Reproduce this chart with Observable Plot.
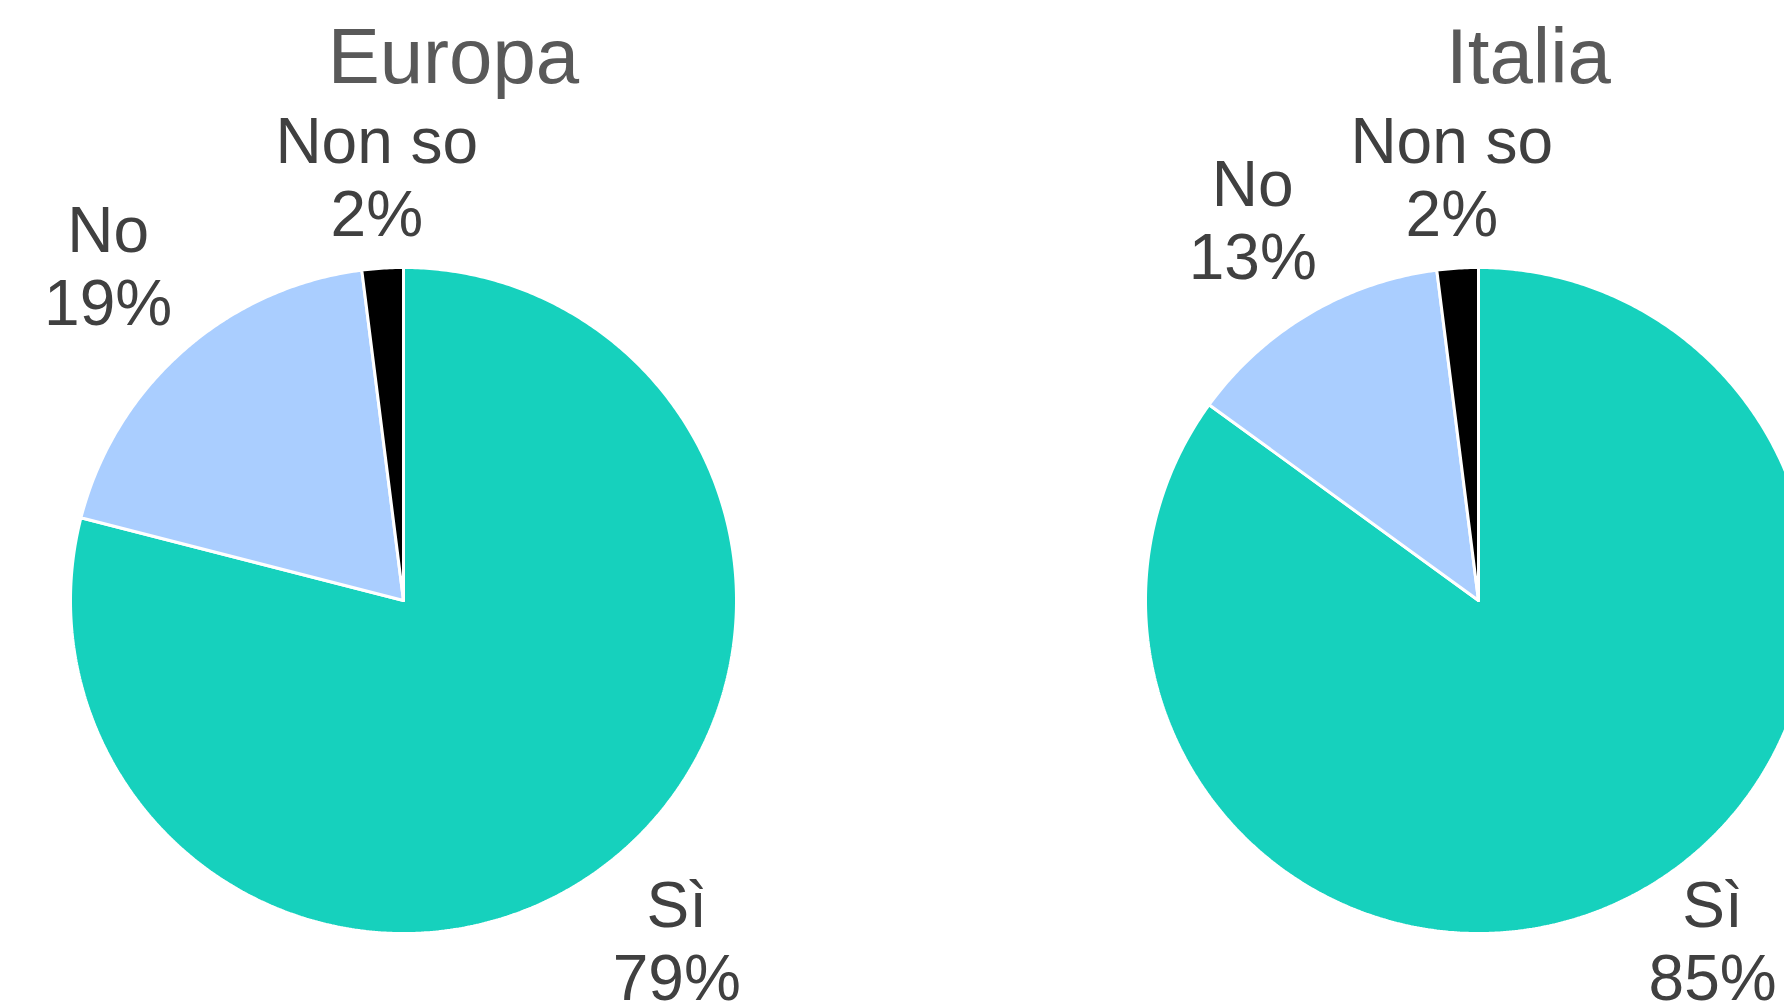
<!DOCTYPE html>
<html><head><meta charset="utf-8">
<script src="https://cdn.jsdelivr.net/npm/d3@7"></script>
<script src="https://cdn.jsdelivr.net/npm/@observablehq/plot@0.6"></script>
<style>html,body{margin:0;padding:0;background:#fff;overflow:hidden}</style>
</head><body><div id="chart"></div>
<script>
const regions = ["Europa", "Italia"];
const answers = ["Sì", "No", "Non so"];
const valuesEuropa = [79, 19, 2];
const valuesItalia = [85, 13, 2];
const answerColors = ["#16D1BD", "#AACEFF", "#000000"];

const W = 1784, H = 1002;
const R = 333;                 // pie radius in px
const mL = 70, mT = 267, mB = H - mT - 2 * R;
const spacing = 1075 / R;      // distance between pie centres, in radius units
const xMax = (W - mL) / R - 1;
const labelFont = 64, labelLH = 1.14;
const fontFamily = "'Liberation Sans', Arial, sans-serif";

const series = [valuesEuropa, valuesItalia];
const pie = d3.pie().sort(null).value(d => d);
const ctx = document.createElement("canvas").getContext("2d");
ctx.font = `${labelFont}px 'Liberation Sans'`;

const wedges = [];
const labels = [];
const halfH = (labelLH * labelFont + 0.72 * labelFont) / 2 / R;
const yMinLabel = -(H - 62 - (mT + R)) / R;
const rEdge = 1.08;            // distance of label box from centre, radius units
const rClear = 0.985;          // clearance used when a label is pushed up from the bottom

regions.forEach((region, ri) => {
  const cx = ri * spacing;
  pie(series[ri]).forEach((a, ai) => {
    const id = region + "|" + answers[ai];
    const n = Math.max(2, Math.ceil((a.endAngle - a.startAngle) / (Math.PI / 360)));
    wedges.push({id, answer: answers[ai], x: cx, y: 0});
    for (let k = 0; k <= n; k++) {
      const t = a.startAngle + (a.endAngle - a.startAngle) * k / n;
      wedges.push({id, answer: answers[ai], x: cx + Math.sin(t), y: Math.cos(t)});
    }
    wedges.push({id, answer: answers[ai], x: cx, y: 0});

    const text = answers[ai] + "\n" + a.data + "%";
    const halfW = Math.max(...text.split("\n").map(s => ctx.measureText(s).width)) / 2 / R;
    const mid = (a.startAngle + a.endAngle) / 2;
    const s = Math.sin(mid), c = Math.cos(mid);
    const dist = rEdge + Math.abs(s) * halfW + Math.abs(c) * halfH;
    let lx = s * dist;
    let ly = c * dist;
    if (ly < yMinLabel) {
      ly = yMinLabel;
      const inner = Math.abs(ly) - halfH;             // box edge nearest the centre
      const clear = Math.sqrt(Math.max(0, rClear * rClear - inner * inner)) + halfW;
      lx = Math.sign(s) * Math.max(Math.abs(lx), clear);
    }
    labels.push({text, x: cx + lx, y: ly});
  });
});

const chart = Plot.plot({
  width: W,
  height: H,
  marginLeft: mL,
  marginRight: 0,
  marginTop: mT,
  marginBottom: mB,
  style: {fontFamily, background: "#ffffff"},
  x: {domain: [-1, xMax], axis: null},
  y: {domain: [-1, 1], axis: null},
  color: {domain: answers, range: answerColors},
  marks: [
    Plot.line(wedges, {x: "x", y: "y", z: "id", fill: "answer", stroke: "white", strokeWidth: 3, strokeLinejoin: "miter", curve: "linear"}),
    Plot.text(labels, {x: "x", y: "y", text: "text", fontSize: labelFont, lineHeight: labelLH, lineAnchor: "middle", textAnchor: "middle", fill: "#404040"}),
    Plot.text(regions, {x: (d, i) => i * spacing + 0.15, y: () => 1, text: d => d, dy: -185, lineAnchor: "bottom", textAnchor: "middle", fontSize: 78, fill: "#595959"})
  ]
});
document.getElementById("chart").appendChild(chart);
</script>
</body></html>
